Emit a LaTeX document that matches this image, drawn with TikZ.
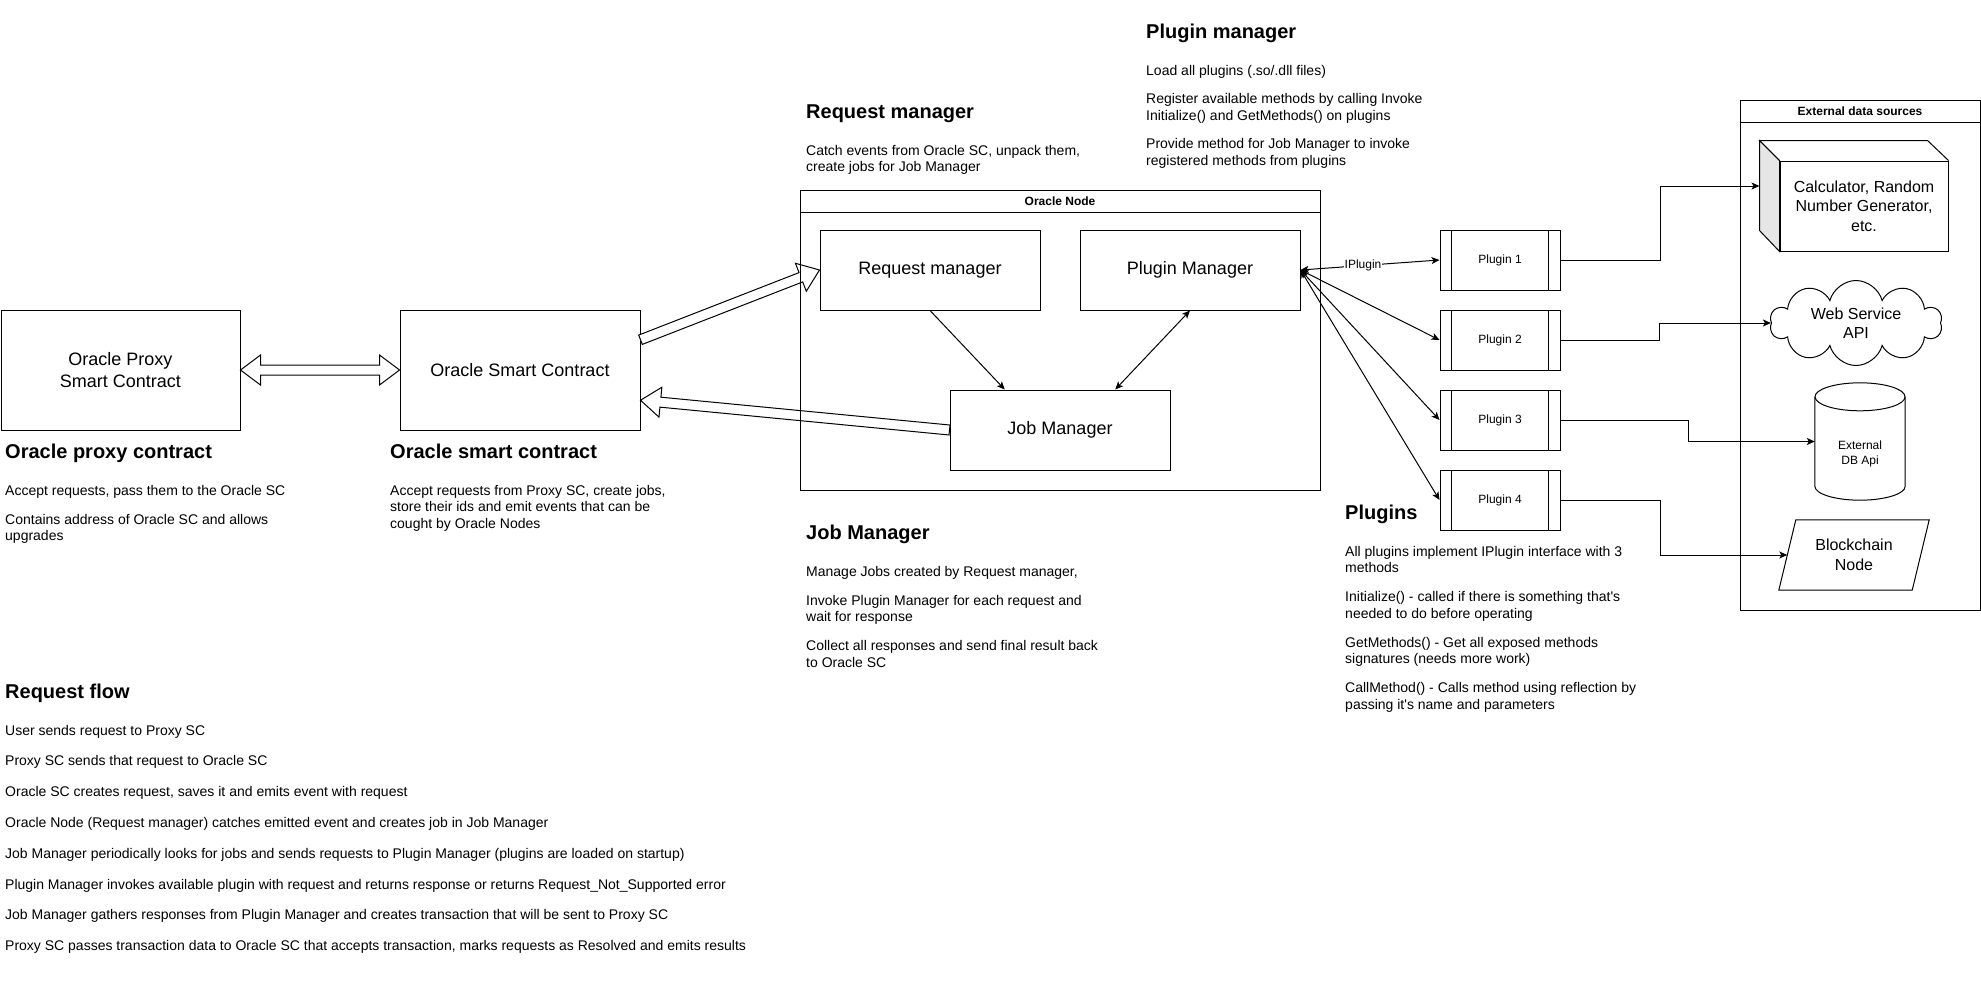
\documentclass[tikz,border=0pt]{standalone}
\usepackage{fontspec}
\setmainfont{Liberation Sans}
\usetikzlibrary{arrows.meta,calc,shapes.symbols}

\definecolor{sidegray}{RGB}{230,230,230}

% debela puscica, kot v draw.io
\newcommand{\flexarrow}[2]{%
  \coordinate (fan) at ($#2!20pt!#1$);
  \draw[flexline] ($#1!5pt!90:#2$) -- ($(fan)!5pt!90:#2$) -- ($(fan)!15pt!90:#2$) -- #2
    -- ($(fan)!15pt!-90:#2$) -- ($(fan)!5pt!-90:#2$) -- ($#1!5pt!-90:#2$) -- cycle;}
% debela puscica v obe smeri
\newcommand{\flexarrowboth}[2]{%
  \coordinate (fam) at ($#1!20pt!#2$);
  \coordinate (fan) at ($#2!20pt!#1$);
  \draw[flexline] #1 -- ($(fam)!15pt!90:#2$) -- ($(fam)!5pt!90:#2$) -- ($(fan)!5pt!90:#2$)
    -- ($(fan)!15pt!90:#2$) -- #2 -- ($(fan)!15pt!-90:#2$) -- ($(fan)!5pt!-90:#2$)
    -- ($(fam)!5pt!-90:#2$) -- ($(fam)!15pt!-90:#2$) -- cycle;}

\begin{document}
\begin{tikzpicture}[x=1pt, y=-1pt,
		% okvirji
		box/.style={draw, line width=1pt, align=center, inner sep=0pt, font=\fontsize{18}{21.5}\selectfont},
		plug/.style={draw, line width=1pt, minimum width=120pt, minimum height=60pt, inner sep=0pt, font=\fontsize{12}{14}\selectfont},
		title/.style={inner sep=0pt, font=\fontsize{12}{14}\selectfont\bfseries},
		shapetext/.style={align=center, inner sep=0pt, font=\fontsize{16}{19.5}\selectfont},
		% besedilo ob diagramu (opis je pripet na vrh prve vrstice)
		heading/.style={anchor=base west, inner sep=0pt, font=\fontsize{20}{24}\selectfont\bfseries},
		desc/.style={anchor=north west, inner sep=0pt, align=left, font=\fontsize{14}{16.5}\selectfont},
		% povezave
		conn/.style={line width=1pt, >={Stealth[length=8pt,width=7pt,inset=2pt]}},
		flexline/.style={draw, line width=1pt, fill=white, line join=miter},
		lbl/.style={fill=white, inner sep=0.5pt, font=\fontsize{12}{14}\selectfont}
		]
		\useasboundingbox (0,0) rectangle (1981,990);
		\fill[white] (0,0) rectangle (1981,990);

		% pametni pogodbi
		\node[box, minimum width=239pt, minimum height=120pt] (proxy) at (120.5,370) {Oracle Proxy\\Smart Contract};
		\node[box, minimum width=240pt, minimum height=120pt] (osc) at (520,370) {Oracle Smart Contract};

		% Oracle Node
		\node[box, minimum width=220pt, minimum height=80pt] (rm) at (930,270) {Request manager};
		\node[box, minimum width=220pt, minimum height=80pt] (pm) at (1190,270) {Plugin Manager};
		\node[box, minimum width=220pt, minimum height=80pt] (jm) at (1060,430) {Job Manager};

		\coordinate (oscout) at ($(osc.north east)!0.25!(osc.south east)$);
		\coordinate (oscin) at ($(osc.north east)!0.75!(osc.south east)$);
		\flexarrowboth{(proxy.east)}{(osc.west)}
		\flexarrow{(oscout)}{(rm.west)}
		\flexarrow{(jm.west)}{(oscin)}

		\node[draw, line width=1pt, minimum width=520pt, minimum height=300pt] (onode) at (1060,340) {};
		\draw[line width=1pt] ($(onode.north west)+(0,23)$) -- ($(onode.north east)+(0,23)$);
		\node[title] (onodetitle) at ($(onode.north)+(0,11.5)$) {Oracle Node};

		\draw[conn, ->] (rm.south) -- ($(jm.north west)!0.25!(jm.north east)$);
		\draw[conn, <->] (pm.south) -- ($(jm.north west)!0.75!(jm.north east)$);

		% vticniki
		\node[plug] (p1) at (1500,260) {Plugin 1};
		\node[plug] (p2) at (1500,340) {Plugin 2};
		\node[plug] (p3) at (1500,420) {Plugin 3};
		\node[plug] (p4) at (1500,500) {Plugin 4};
		\draw[line width=1pt] ([xshift=12pt]p1.north west) -- ([xshift=12pt]p1.south west);
		\draw[line width=1pt] ([xshift=-12pt]p1.north east) -- ([xshift=-12pt]p1.south east);
		\draw[line width=1pt] ([xshift=12pt]p2.north west) -- ([xshift=12pt]p2.south west);
		\draw[line width=1pt] ([xshift=-12pt]p2.north east) -- ([xshift=-12pt]p2.south east);
		\draw[line width=1pt] ([xshift=12pt]p3.north west) -- ([xshift=12pt]p3.south west);
		\draw[line width=1pt] ([xshift=-12pt]p3.north east) -- ([xshift=-12pt]p3.south east);
		\draw[line width=1pt] ([xshift=12pt]p4.north west) -- ([xshift=12pt]p4.south west);
		\draw[line width=1pt] ([xshift=-12pt]p4.north east) -- ([xshift=-12pt]p4.south east);

		\draw[conn, <->] (pm.east) -- node[lbl, pos=0.45] {IPlugin} (p1.west);
		\draw[conn, <->] (pm.east) -- (p2.west);
		\draw[conn, <->] (pm.east) -- (p3.west);
		\draw[conn, <->] (pm.east) -- (p4.west);

		% zunanji viri podatkov
		\node[draw, line width=1pt, minimum width=240pt, minimum height=510pt] (ext) at (1860,355) {};
		\draw[line width=1pt] ($(ext.north west)+(0,23)$) -- ($(ext.north east)+(0,23)$);
		\node[title] (exttitle) at ($(ext.north)+(0,11.5)$) {External data sources};

		\node[draw, line width=1pt, minimum width=168pt, minimum height=90pt, shapetext] (calc) at (1864,206) {Calculator, Random\\Number Generator,\\etc.};
		\draw[line width=1pt, fill=sidegray] (calc.north west) -- ++(-20,-20) -- ++(0,90) -- (calc.south west) -- cycle;
		\draw[line width=1pt] (calc.north west) -- ++(-20,-20) -- ++(168,0) -- (calc.north east);
		\coordinate (calcin) at ($(calc.west)+(-20,-20)$);

		\node[cloud, draw, line width=1pt, cloud puffs=10, cloud ignores aspect, minimum width=172pt, minimum height=85pt, shapetext] (cloud) at (1856,323) {Web Service\\API};

		\node[minimum width=90pt, minimum height=117pt, inner sep=0pt] (db) at (1860,441.5) {};
		\draw[line width=1pt] ($(db.north)+(0,14)$) ellipse [x radius=45, y radius=14];
		\draw[line width=1pt] ($(db.north west)+(0,14)$) -- ($(db.south west)+(0,-14)$)
			.. controls +(0,7.7) and +(-24.9,0) .. (db.south)
			.. controls +(24.9,0) and +(0,7.7) .. ($(db.south east)+(0,-14)$) -- ($(db.north east)+(0,14)$);
		\node[align=center, inner sep=0pt, font=\fontsize{12}{15}\selectfont] (dblabel) at ($(db.center)+(0,12)$) {External\\DB Api};

		\node[minimum width=150pt, minimum height=70pt, inner sep=0pt, shapetext] (bc) at (1854,555) {Blockchain\\Node};
		\draw[line width=1pt] ($(bc.north west)+(17,0)$) -- (bc.north east) -- ($(bc.south east)+(-17,0)$) -- (bc.south west) -- cycle;
		\coordinate (bcin) at ($(bc.west)+(8.5,0)$);

		\draw[conn, ->] (p1.east) -- ++(100,0) |- (calcin);
		\draw[conn, ->] (p2.east) -- ++(99,0) |- (cloud.west);
		\draw[conn, ->] (p3.east) -- ++(128,0) |- (db.west);
		\draw[conn, ->] (p4.east) -- ++(100,0) |- (bcin);

		% opisi
		\node[heading] (hproxy) at (5,458) {Oracle proxy contract};
		\node[desc] (dproxy) at (5,484.8) {Accept requests, pass them to the Oracle SC\\[12.5pt]Contains address of Oracle SC and allows\\upgrades};

		\node[heading] (hosc) at (390,458) {Oracle smart contract};
		\node[desc] (dosc) at (390,484.8) {Accept requests from Proxy SC, create jobs,\\store their ids and emit events that can be\\cought by Oracle Nodes};

		\node[heading] (hrm) at (806,118) {Request manager};
		\node[desc] (drm) at (806,144.8) {Catch events from Oracle SC, unpack them,\\create jobs for Job Manager};

		\node[heading] (hpm) at (1146,39) {Plugin manager};
		\node[desc] (dpm) at (1146,64.8) {Load all plugins (.so/.dll files)\\[12pt]Register available methods by calling Invoke\\Initialize() and GetMethods() on plugins\\[12pt]Provide method for Job Manager to invoke\\registered methods from plugins};

		\node[heading] (hjm) at (806,539) {Job Manager};
		\node[desc] (djm) at (806,565.8) {Manage Jobs created by Request manager,\\[12.5pt]Invoke Plugin Manager for each request and\\wait for response\\[12.5pt]Collect all responses and send final result back\\to Oracle SC};

		\node[heading] (hplug) at (1345,519) {Plugins};
		\node[desc] (dplug) at (1345,545.8) {All plugins implement IPlugin interface with 3\\methods\\[12.5pt]Initialize() - called if there is something that\textquotesingle s\\needed to do before operating\\[12.5pt]GetMethods() - Get all exposed methods\\signatures (needs more work)\\[12.5pt]CallMethod() - Calls method using reflection by\\passing it\textquotesingle s name and parameters};

		\node[heading] (hflow) at (5,698) {Request flow};
		\node[desc] (dflow) at (5,724.8) {User sends request to Proxy SC\\[14.3pt]Proxy SC sends that request to Oracle SC\\[14.3pt]Oracle SC creates request, saves it and emits event with request\\[14.3pt]Oracle Node (Request manager) catches emitted event and creates job in Job Manager\\[14.3pt]Job Manager periodically looks for jobs and sends requests to Plugin Manager (plugins are loaded on startup)\\[14.3pt]Plugin Manager invokes available plugin with request and returns response or returns Request\_Not\_Supported error\\[14.3pt]Job Manager gathers responses from Plugin Manager and creates transaction that will be sent to Proxy SC\\[14.3pt]Proxy SC passes transaction data to Oracle SC that accepts transaction, marks requests as Resolved and emits results};
	\end{tikzpicture}
\end{document}
